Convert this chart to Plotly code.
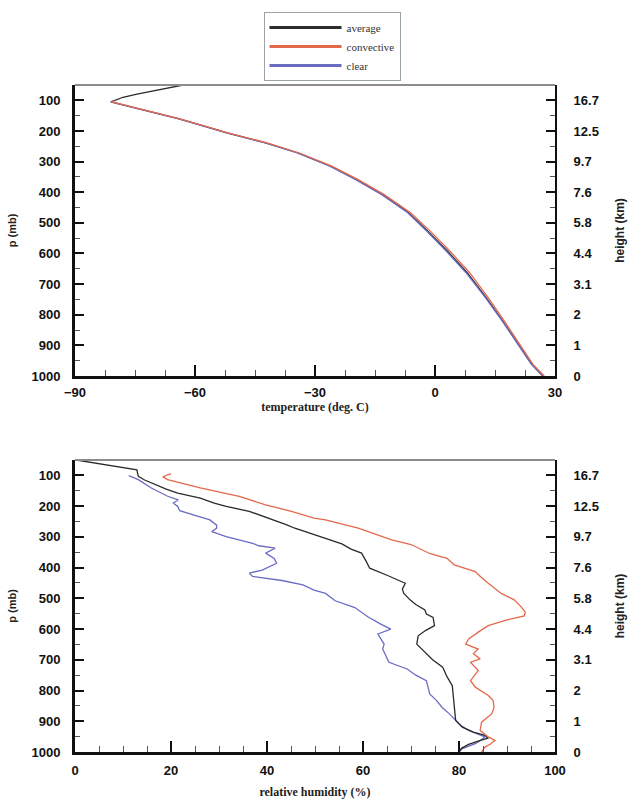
import plotly.graph_objects as go

# ---------------- data ----------------
# Temperature profiles (pressure in mb, temperature in deg C)
p_T_avg = [50, 60, 70, 80, 90, 100, 105, 120, 140, 160, 180, 206, 239, 272, 315, 359, 408,
           467, 527, 592, 662, 744, 820, 897, 962, 1000]
T_avg = [-63, -67, -71, -74.5, -78, -80.2, -81, -76.5, -70, -64.2, -58.8, -52, -42.3, -34.2,
         -26.1, -19.6, -13.1, -6.6, -1.8, 3.1, 8.0, 12.8, 16.9, 20.9, 24.2, 27.0]

p_T_conv = [100, 105, 120, 140, 160, 180, 206, 239, 272, 315, 359, 408, 467, 527, 592, 662,
            744, 820, 897, 962, 1000]
T_conv = [-80.3, -80.8, -76.3, -69.8, -64.0, -58.6, -51.8, -42.0, -33.9, -25.8, -19.2, -12.7,
          -6.1, -1.2, 3.7, 8.6, 13.3, 17.3, 21.2, 24.5, 27.3]

p_T_clear = [100, 105, 120, 140, 160, 180, 206, 239, 272, 315, 359, 408, 467, 527, 592, 662,
             744, 820, 897, 962, 1000]
T_clear = [-80.2, -81.1, -76.6, -70.1, -64.3, -58.9, -52.1, -42.5, -34.4, -26.3, -19.8, -13.3,
           -6.8, -2.1, 2.8, 7.7, 12.6, 16.8, 20.8, 24.1, 26.9]

# Relative humidity profiles (pressure in mb, RH in %)
p_RH_avg = [50, 60, 70, 82, 90, 103, 115, 130, 145, 158, 174, 190, 201, 217, 239, 260, 272, 293,
            310, 323, 340, 353, 375, 402, 425, 451, 470, 484, 505, 520, 538, 551, 562, 589, 605,
            622, 649, 670, 700, 724, 755, 784, 820, 854, 897, 919, 935, 946, 955, 965, 975, 988,
            1000]
RH_avg = [0.3, 4, 8, 12.9, 13.0, 13.2, 14.5, 16.6, 19, 21.4, 26.1, 29, 31.5, 36.3, 40.3, 44,
          45.8, 49.8, 53, 55.6, 57.5, 59.7, 60.5, 61.4, 65, 68.8, 68.2, 68.5, 69.8, 71, 72.9,
          73.2, 74.6, 74.9, 73, 71.5, 71.2, 72.5, 74.5, 76.6, 77.5, 78.6, 78.8, 79, 79.3, 80.7,
          83, 85.4, 86, 84, 82, 80.5, 80]

p_RH_conv = [95, 98, 105, 114, 141, 168, 196, 217, 239, 245, 272, 290, 310, 325, 340, 355, 370,
             391, 413, 430, 451, 484, 505, 527, 545, 557, 570, 589, 610, 632, 649, 665, 680, 697,
             708, 735, 768, 789, 816, 832, 855, 876, 903, 930, 950, 962, 975, 984, 1000]
RH_conv = [20, 19.3, 18.3, 19.3, 26.1, 34.2, 39.7, 45.1, 49.8, 52.2, 59, 62.5, 66, 70, 72, 74,
           77.5, 79, 83.4, 84.5, 86.1, 88.8, 91.5, 92.9, 93.8, 93.6, 90, 86.1, 84, 82, 81.4, 84,
           83, 84.4, 82.4, 84, 82.4, 83.4, 86.1, 87.1, 87.3, 86.8, 84.7, 84.4, 86, 87.5, 86.5,
           85.4, 84.7]

p_RH_clear = [101, 114, 141, 168, 180, 190, 201, 215, 230, 245, 262, 272, 283, 299, 321, 329,
              337, 353, 370, 386, 408, 418, 429, 442, 456, 473, 484, 508, 530, 560, 584, 600, 616,
              649, 665, 708, 730, 750, 768, 790, 811, 832, 855, 876, 897, 915, 930, 951, 962, 973,
              989, 1000]
RH_clear = [11.2, 13.2, 15.9, 19.3, 21.5, 20.5, 21.4, 21.8, 25, 28.1, 29.5, 29.5, 28.5, 31.5,
            37, 38.3, 41.7, 39.7, 41.5, 42, 39, 36.3, 37, 43.1, 47.5, 49.8, 52.2, 54.2, 58.3, 61,
            63.7, 65.8, 63.1, 64.4, 64.1, 65.4, 69.2, 71, 73.2, 73.5, 73.9, 75.3, 76.5, 78, 79.3,
            80.5, 82, 85.4, 84.5, 83.4, 80.7, 80]

p_ticks = [100, 200, 300, 400, 500, 600, 700, 800, 900, 1000]
height_labels = ["16.7", "12.5", "9.7", "7.6", "5.8", "4.4", "3.1", "2", "1", "0"]

series_names = ["average", "convective", "clear"]
colors = {"average": "#2b2b2b", "convective": "#e4694c", "clear": "#6a6cc4"}

# ---------------- figure ----------------
W, H = 643, 806
ML, MR, MT, MB = 75, 88, 85, 54
plot_h = H - MT - MB
top_dom = [(H - MB - 376) / plot_h, 1.0]
bot_dom = [0.0, (H - MB - 460) / plot_h]

fig = go.Figure()
lw = 1.3

# top panel
fig.add_trace(go.Scatter(x=T_avg, y=p_T_avg, mode="lines", line=dict(color=colors["average"], width=lw),
                         xaxis="x", yaxis="y", showlegend=False, hoverinfo="skip"))
fig.add_trace(go.Scatter(x=T_clear, y=p_T_clear, mode="lines", line=dict(color=colors["clear"], width=lw),
                         xaxis="x", yaxis="y", showlegend=False, hoverinfo="skip"))
fig.add_trace(go.Scatter(x=T_conv, y=p_T_conv, mode="lines", line=dict(color=colors["convective"], width=lw),
                         xaxis="x", yaxis="y3", showlegend=False, hoverinfo="skip"))
# bottom panel
fig.add_trace(go.Scatter(x=RH_clear, y=p_RH_clear, mode="lines", line=dict(color=colors["clear"], width=lw),
                         xaxis="x2", yaxis="y2", showlegend=False, hoverinfo="skip"))
fig.add_trace(go.Scatter(x=RH_avg, y=p_RH_avg, mode="lines", line=dict(color=colors["average"], width=lw),
                         xaxis="x2", yaxis="y2", showlegend=False, hoverinfo="skip"))
fig.add_trace(go.Scatter(x=RH_conv, y=p_RH_conv, mode="lines", line=dict(color=colors["convective"], width=lw),
                         xaxis="x2", yaxis="y4", showlegend=False, hoverinfo="skip"))

# legend entries
for name in series_names:
    fig.add_trace(go.Scatter(x=[None], y=[None], mode="lines", name=name,
                             line=dict(color=colors[name], width=3), xaxis="x", yaxis="y"))

SANS = "Liberation Sans, Arial, sans-serif"
SERIF = "Liberation Serif, Times New Roman, serif"
tickfont = dict(family=SANS, size=13, color="#111", weight="bold")


def yaxis_left(domain, anchor):
    return dict(domain=domain, anchor=anchor, range=[1000, 50], tickmode="array",
                tickvals=p_ticks, ticktext=[str(v) for v in p_ticks],
                ticks="inside", ticklen=9, tickwidth=2, tickcolor="#111",
                minor=dict(ticks="inside", ticklen=5, tickwidth=1, tickcolor="#555", dtick=50, tick0=0),
                showline=True, linecolor="#111", linewidth=3, showgrid=False, zeroline=False,
                tickfont=tickfont, ticklabelstandoff=9, automargin=False,
                title=dict(text="p (mb)", font=dict(family=SANS, size=11, color="#222", weight="bold"),
                           standoff=13))


def yaxis_right(overlay):
    return dict(overlaying=overlay, side="right", anchor="x" if overlay == "y" else "x2",
                range=[1000, 50], tickmode="array", tickvals=p_ticks, ticktext=height_labels,
                ticks="inside", ticklen=9, tickwidth=2, tickcolor="#111",
                minor=dict(ticks="inside", ticklen=5, tickwidth=1, tickcolor="#555", dtick=50, tick0=0),
                showline=True, linecolor="#111", linewidth=2, showgrid=False, zeroline=False,
                tickfont=tickfont, ticklabelstandoff=14, automargin=False,
                title=dict(text="height (km)", font=dict(family=SANS, size=12, color="#222", weight="bold"),
                           standoff=18))


fig.update_layout(
    width=W, height=H, margin=dict(l=ML, r=MR, t=MT, b=MB, autoexpand=False),
    paper_bgcolor="white", plot_bgcolor="white",
    xaxis=dict(domain=[0, 1], anchor="y", range=[-90, 30], tickmode="linear", tick0=-90, dtick=30,
               ticks="inside", ticklen=11, tickwidth=2, tickcolor="#111",
               minor=dict(ticks="inside", ticklen=6, tickwidth=1, tickcolor="#555", dtick=7.5, tick0=-90),
               showline=True, linecolor="#111", linewidth=3, showgrid=False, zeroline=False,
               tickfont=tickfont, ticklabelstandoff=2, automargin=False,
               title=dict(text="temperature (deg. C)",
                          font=dict(family=SERIF, size=12, color="#222", weight="bold"), standoff=4)),
    yaxis=yaxis_left(top_dom, "x"),
    yaxis3=yaxis_right("y"),
    xaxis2=dict(domain=[0, 1], anchor="y2", range=[0, 100], tickmode="linear", tick0=0, dtick=20,
                ticks="inside", ticklen=11, tickwidth=2, tickcolor="#111",
                minor=dict(ticks="inside", ticklen=6, tickwidth=1, tickcolor="#555", dtick=5, tick0=0),
                showline=True, linecolor="#111", linewidth=3, showgrid=False, zeroline=False,
                tickfont=tickfont, ticklabelstandoff=4, automargin=False,
                title=dict(text="relative humidity (%)",
                           font=dict(family=SERIF, size=12, color="#222", weight="bold"), standoff=12)),
    yaxis2=yaxis_left(bot_dom, "x2"),
    yaxis4=yaxis_right("y2"),
    legend=dict(x=(332 - ML) / (W - ML - MR), xanchor="center",
                y=(H - MB - 12) / plot_h, yanchor="top",
                bgcolor="white", bordercolor="#9aa3a8", borderwidth=1,
                font=dict(family=SERIF, size=11, color="#333"),
                tracegroupgap=0, itemwidth=72),
    shapes=[
        dict(type="line", xref="x domain", yref="y domain", x0=0, x1=1, y0=1, y1=1,
             line=dict(color="#8c8c8c", width=2)),
        dict(type="line", xref="x2 domain", yref="y2 domain", x0=0, x1=1, y0=1, y1=1,
             line=dict(color="#8c8c8c", width=2)),
    ],
)

fig.write_html("out.html")
